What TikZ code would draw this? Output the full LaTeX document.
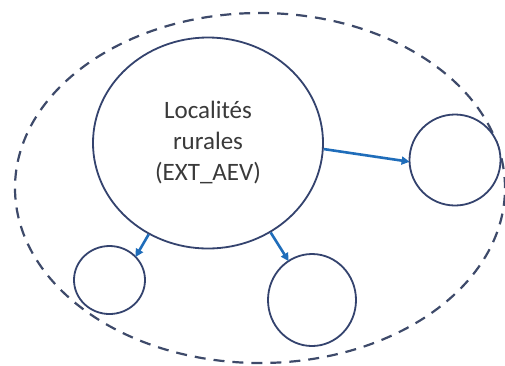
\documentclass[tikz,border=0pt]{standalone}
\usepackage{fontspec}
\setmainfont{Carlito}
\usetikzlibrary{arrows.meta,shapes.geometric}
\definecolor{navy}{HTML}{34436E}
\definecolor{arrowblue}{HTML}{1F6DBA}
\definecolor{dashcol}{HTML}{3E4A6A}
\definecolor{txt}{HTML}{3A3A3A}
\tikzset{
  bubble/.style={draw=navy, line width=1.8pt, ellipse, inner sep=0pt, fill=white},
  link/.style={draw=arrowblue, line width=2.6pt, -{Triangle[length=8pt,width=8pt]}, shorten >=-1pt},
  outer/.style={draw=dashcol, line width=2.2pt, dash pattern=on 11pt off 8pt, ellipse, inner sep=0pt}
}
\begin{document}
\begin{tikzpicture}[x=1pt,y=-1pt]
\useasboundingbox (0,0) rectangle (505,365);
\fill[white] (0,0) rectangle (505,365);
\node[outer, minimum width=490pt, minimum height=350pt] (group) at (260,188) {};
\node[bubble, minimum width=230pt, minimum height=211pt, align=center, text=txt, font=\fontsize{25}{31}\selectfont] (main) at (208,143) {Localités\\rurales\\(EXT\_AEV)};
\node[bubble, minimum width=91pt, minimum height=91pt] (right) at (455,160) {};
\node[bubble, minimum width=71pt, minimum height=68pt] (bl) at (109.5,280) {};
\node[bubble, minimum width=88pt, minimum height=92pt] (bm) at (312,300) {};
\draw[link] (main.-3) -- (right.182);
\draw[link] (main.-123) -- (bl.42);
\draw[link] (main.-55) -- (bm.121);
\end{tikzpicture}
\end{document}
